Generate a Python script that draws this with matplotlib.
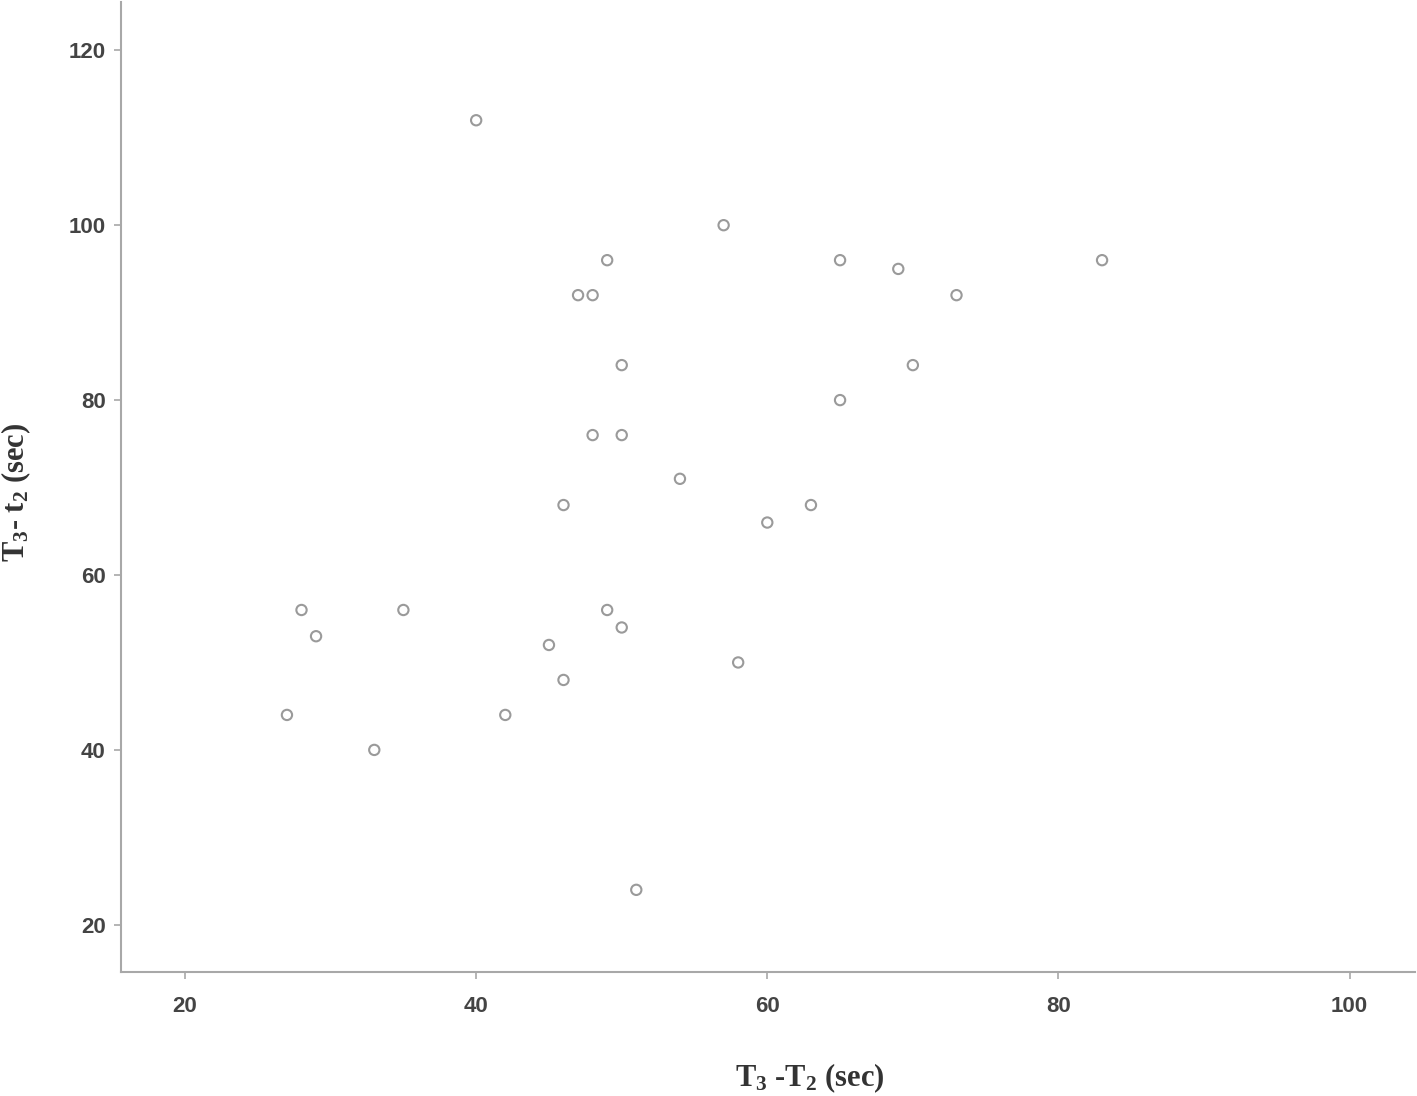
import matplotlib.pyplot as plt

# --- Dados ---
t3_T2 = [40, 57, 49, 65, 83, 69, 47, 48, 73, 50, 70, 65, 48, 50, 54,
         46, 63, 60, 28, 35, 49, 29, 50, 45, 58, 46, 27, 42, 33, 51]
t3_t2 = [112, 100, 96, 96, 96, 95, 92, 92, 92, 84, 84, 80, 76, 76, 71,
         68, 68, 66, 56, 56, 56, 53, 54, 52, 50, 48, 44, 44, 40, 24]
x_ticks = [20, 40, 60, 80, 100]
y_ticks = [20, 40, 60, 80, 100, 120]

# subscritos em Times negrito
plt.rcParams['mathtext.fontset'] = 'custom'
plt.rcParams['mathtext.rm'] = 'Liberation Serif:bold'
plt.rcParams['mathtext.it'] = 'Liberation Serif:bold'
plt.rcParams['mathtext.bf'] = 'Liberation Serif:bold'

fig = plt.figure(figsize=(14.17, 10.96), dpi=100)
ax = fig.add_axes([0.0854, 0.1131, 0.9132, 0.8849])

ax.scatter(t3_T2, t3_t2, s=55, facecolors='none', edgecolors='#9a9a9a',
           linewidths=1.5, zorder=3)

ax.set_xlim(15.6, 104.5)
ax.set_ylim(14.6, 125.5)
ax.set_xticks(x_ticks)
ax.set_yticks(y_ticks)

for lado in ['top', 'right']:
    ax.spines[lado].set_visible(False)
for lado in ['left', 'bottom']:
    ax.spines[lado].set_color('#a8a8a8')
    ax.spines[lado].set_linewidth(1.5)

ax.tick_params(axis='both', direction='out', length=5, width=1.2,
               color='#a8a8a8', labelcolor='#444444', labelsize=16, pad=6)
ax.tick_params(axis='x', pad=12)
for lbl in ax.get_xticklabels() + ax.get_yticklabels():
    lbl.set_fontfamily('Liberation Sans')
    lbl.set_fontweight('bold')

# rótulos dos eixos posicionados na figura
fig.text(0.5716, 0.0164, r'T$_3$ -T$_2$ (sec)', fontsize=22, color='#333333',
         family='Liberation Serif', fontweight='bold', ha='center', va='center')
fig.text(0.0115, 0.551, r'T$_3$- t$_2$ (sec)', fontsize=22, color='#333333',
         family='Liberation Serif', fontweight='bold', ha='center', va='center',
         rotation=90)

fig.savefig('out.png', dpi=100, facecolor='white')
